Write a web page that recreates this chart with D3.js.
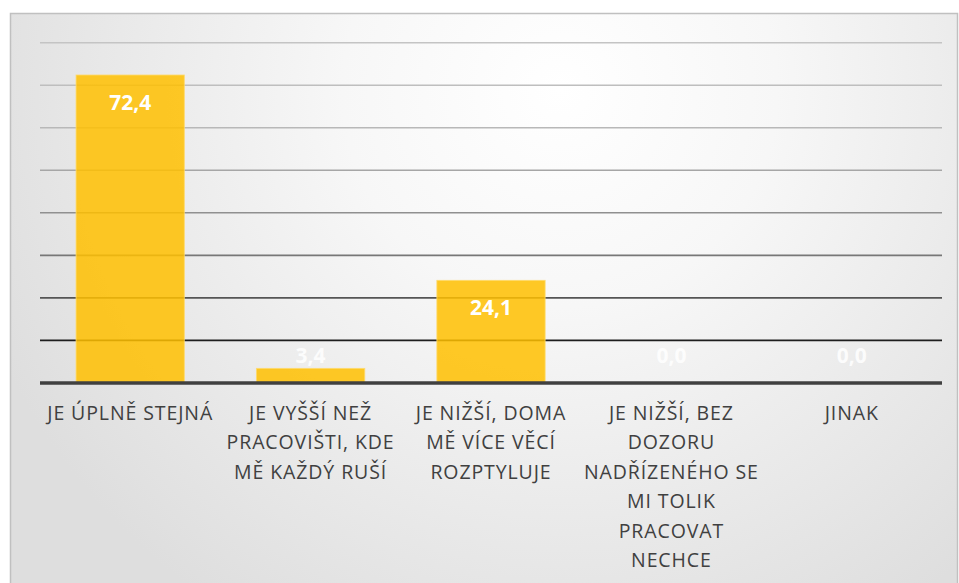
<!DOCTYPE html>
<html>
<head>
<meta charset="utf-8">
<title></title>
<style>
body { margin: 0; background: #fff; }
.cat { font-family: "Open Sans", sans-serif; font-size: 19.5px; letter-spacing: 0.9px; fill: #404040; }
.val { font-family: "Open Sans", sans-serif; font-size: 21px; font-weight: 700; fill: #fff; }
</style>
</head>
<body>
<div id="chart"></div>
<script src="https://cdnjs.cloudflare.com/ajax/libs/d3/7.8.5/d3.min.js"></script>
<script>
// data
var categories = [
    "JE ÚPLNĚ STEJNÁ",
    "JE VYŠŠÍ NEŽ\nPRACOVIŠTI, KDE\nMĚ KAŽDÝ RUŠÍ",
    "JE NIŽŠÍ, DOMA\nMĚ VÍCE VĚCÍ\nROZPTYLUJE",
    "JE NIŽŠÍ, BEZ\nDOZORU\nNADŘÍZENÉHO SE\nMI TOLIK\nPRACOVAT\nNECHCE",
    "JINAK"
];
var values = [72.4, 3.4, 24.1, 0.0, 0.0];
var yTicks = [0, 10, 20, 30, 40, 50, 60, 70, 80];

var w = 959, h = 583;
var margin = {top: 42.7, right: 17, bottom: 201, left: 40};

var svg = d3.select("#chart").append("svg")
    .attr("width", w)
    .attr("height", h);

// background gradient of the chart area
var defs = svg.append("defs");
var grad = defs.append("radialGradient")
    .attr("id", "bg")
    .attr("gradientUnits", "userSpaceOnUse")
    .attr("cx", 560).attr("cy", 90).attr("r", 620);
grad.append("stop").attr("offset", "0%").attr("stop-color", "#ffffff");
grad.append("stop").attr("offset", "35%").attr("stop-color", "#f7f7f7");
grad.append("stop").attr("offset", "100%").attr("stop-color", "#dedede");

svg.append("rect")
    .attr("x", 10.5).attr("y", 13.5)
    .attr("width", w - 12).attr("height", h)
    .attr("fill", "url(#bg)")
    .attr("stroke", "#c0c0c0")
    .attr("stroke-width", 1.5);

var xScale = d3.scaleBand()
    .domain(d3.range(categories.length))
    .range([margin.left, w - margin.right])
    .paddingInner(0.4)
    .paddingOuter(0.2);

var yScale = d3.scaleLinear()
    .domain([0, 80])
    .range([h - margin.bottom + 0.9, margin.top]);

// gridlines get darker towards the bottom
var gridColor = d3.scaleLinear()
    .domain([10, 20, 30, 40, 50, 60, 80])
    .range(["#1e1e1e", "#555555", "#777777", "#909090", "#a6a6a6", "#b8b8b8", "#c4c4c4"]);

svg.append("g")
    .selectAll("line")
    .data(yTicks.filter(d => d > 0))
    .join("line")
    .attr("x1", margin.left)
    .attr("x2", w - margin.right)
    .attr("y1", d => yScale(d))
    .attr("y2", d => yScale(d))
    .attr("stroke", d => gridColor(d))
    .attr("stroke-width", 1.6);

// bars
svg.append("g")
    .selectAll("rect")
    .data(values)
    .join("rect")
    .attr("x", (d, i) => xScale(i))
    .attr("y", d => yScale(d))
    .attr("width", xScale.bandwidth())
    .attr("height", d => yScale(0) - yScale(d))
    .attr("fill", "#ffc000")
    .attr("fill-opacity", 0.85)
    .attr("stroke", "#ffd966")
    .attr("stroke-opacity", d => d > 0 ? 0.8 : 0)
    .attr("stroke-width", 1);

// axis line
svg.append("line")
    .attr("x1", margin.left)
    .attr("x2", w - margin.right)
    .attr("y1", yScale(0))
    .attr("y2", yScale(0))
    .attr("stroke", "#404040")
    .attr("stroke-width", 3.5);

// value labels
svg.append("g")
    .selectAll("text")
    .data(values)
    .join("text")
    .attr("class", "val")
    .attr("text-anchor", "middle")
    .attr("x", (d, i) => xScale(i) + xScale.bandwidth() / 2)
    .attr("y", d => Math.min(yScale(d) + 34.5, yScale(0) - 19.5))
    .attr("fill-opacity", d => d > 5 ? 1 : 0.85)
    .text(d => d3.format(".1f")(d).replace(".", ","));

// category labels
var catG = svg.append("g")
    .selectAll("text")
    .data(categories)
    .join("text")
    .attr("class", "cat")
    .attr("text-anchor", "middle")
    .attr("x", (d, i) => xScale(i) + xScale.bandwidth() / 2)
    .attr("y", 420);

catG.selectAll("tspan")
    .data(d => d.split("\n"))
    .join("tspan")
    .attr("x", function() { return this.parentNode.getAttribute("x"); })
    .attr("dy", (d, i) => i === 0 ? 0 : 29.4)
    .text(d => d);
</script>
</body>
</html>
